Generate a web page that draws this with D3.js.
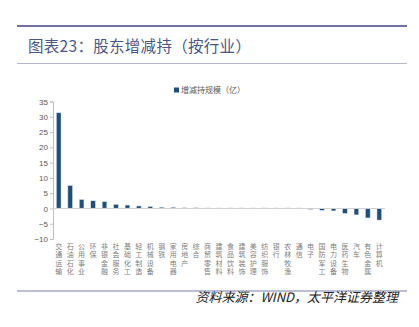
<!DOCTYPE html>
<html>
<head>
<meta charset="utf-8">
<script src="https://cdn.jsdelivr.net/npm/d3@7/dist/d3.min.js"></script>
<style>
  html, body { margin: 0; padding: 0; background: #fff; }
  svg { display: block; font-family: "Noto Sans CJK SC", "DejaVu Sans", sans-serif; }
  .cat { writing-mode: vertical-rl; text-orientation: upright; }
</style>
</head>
<body>
<svg id="chart" width="419" height="327"></svg>
<script>
// Industries, ordered by net shareholder increase/decrease
const categories = [
  "交通运输", "石油石化", "公用事业", "环保", "非银金融", "社会服务", "基础化工",
  "轻工制造", "机械设备", "钢铁", "家用电器", "房地产", "综合", "商贸零售",
  "建筑材料", "食品饮料", "建筑装饰", "美容护理", "纺织服饰", "银行", "农林牧渔",
  "通信", "电子", "国防军工", "电力设备", "医药生物", "汽车", "有色金属", "计算机"
];
// Net increase/decrease of holdings (100 million CNY)
const values = [
  31.3, 7.5, 2.9, 2.5, 2.2, 1.3, 1.1,
  0.8, 0.6, 0.4, 0.35, 0.2, 0.2, 0.15,
  0.15, 0.15, 0.15, 0.15, 0.15, 0.15, 0.15,
  0.15, -0.3, -0.6, -0.8, -1.6, -2.1, -3.1, -3.8
];
const yTicks = [35, 30, 25, 20, 15, 10, 5, 0, -5, -10];
const seriesName = "增减持规模（亿）";
const titleText = "图表23：股东增减持（按行业）";
const sourceText = "资料来源：WIND，太平洋证券整理";

const svg = d3.select("#chart");

// Header rules and title
svg.append("rect").attr("x", 17).attr("y", 25).attr("width", 390).attr("height", 2).attr("fill", "#6f72a8");
svg.append("rect").attr("x", 17).attr("y", 63).attr("width", 390).attr("height", 1).attr("fill", "#b4b6d6");
svg.append("text").attr("x", 28).attr("y", 52)
  .attr("font-size", 15.5).attr("fill", "#4a5687").attr("letter-spacing", 0.3)
  .text(titleText);

// Plot geometry
const x = d3.scaleBand().domain(categories).range([53, 385]).paddingInner(0.6).paddingOuter(0.3);
const y = d3.scaleLinear().domain([-10, 35]).range([239, 101.5]);

// Y axis
const yAxis = d3.axisLeft(y).tickValues(yTicks).tickSize(3).tickFormat(d3.format("d"));
const gy = svg.append("g").attr("transform", "translate(53,0)").call(yAxis);
gy.select(".domain").attr("stroke", "#bfbfbf");
gy.selectAll(".tick line").attr("stroke", "#bfbfbf");
gy.selectAll(".tick text").attr("fill", "#595959").attr("font-size", 8)
  .attr("font-family", "Liberation Sans, Arial, sans-serif").attr("x", -5);

// Bars
svg.append("g").selectAll("rect").data(values).join("rect")
  .attr("x", (d, i) => x(categories[i]))
  .attr("width", x.bandwidth())
  .attr("y", d => y(Math.max(0, d)))
  .attr("height", d => Math.abs(y(d) - y(0)))
  .attr("fill", "#1f4e79")
  .attr("stroke", "#c9d6e6").attr("stroke-width", 0.5);

// Zero line
svg.append("line").attr("x1", 53).attr("x2", 385).attr("y1", y(0)).attr("y2", y(0))
  .attr("stroke", "#d0d0d0").attr("stroke-width", 1);

// Category labels, written top to bottom
svg.append("g").selectAll("text").data(categories).join("text")
  .attr("class", "cat")
  .attr("fill", "#808080").attr("font-size", 7)
  .attr("letter-spacing", 1.2)
  .attr("x", d => x(d) + x.bandwidth() / 2)
  .attr("y", 243)
  .text(d => d);

// Legend
svg.append("rect").attr("x", 174).attr("y", 87.5).attr("width", 5).attr("height", 5).attr("fill", "#1f4e79");
svg.append("text").attr("x", 181).attr("y", 93).attr("font-size", 8).attr("fill", "#595959").text(seriesName);

// Footer rule and source
svg.append("rect").attr("x", 17).attr("y", 290.5).attr("width", 390).attr("height", 1).attr("fill", "#7b7eb0");
svg.append("text").attr("x", 398).attr("y", 302).attr("text-anchor", "end")
  .attr("font-size", 13).attr("font-style", "italic").attr("fill", "#222")
  .text(sourceText);
</script>
</body>
</html>
